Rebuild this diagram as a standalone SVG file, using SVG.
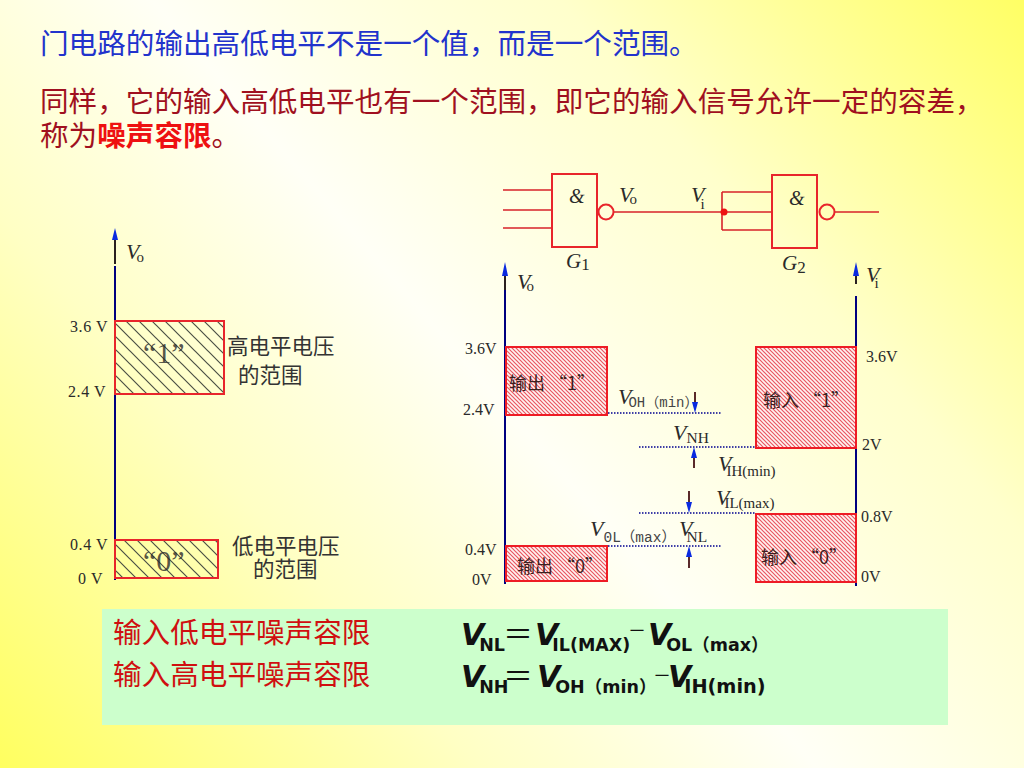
<svg xmlns="http://www.w3.org/2000/svg" width="1024" height="768" viewBox="0 0 1024 768">
<style>
.cn{font-family:"Noto Sans CJK SC","Liberation Sans",sans-serif}
.s{font-family:"Liberation Serif","Noto Sans CJK SC",serif;fill:#2a2a2a}
.i{font-style:italic}
.b{font-family:"DejaVu Sans","Noto Sans CJK SC",sans-serif;font-weight:bold;fill:#111}
.m{font-family:"Liberation Mono","Noto Sans CJK SC",monospace}
.g{fill:none;stroke:#e8252b;stroke-width:2}
.w{stroke:#d8232a;stroke-width:1.6;fill:none}
.ax{stroke:#000080;stroke-width:2;fill:none}
.top{stroke:#2a2020;stroke-width:2;fill:none}
.dot{stroke:#000090;stroke-width:1.5;stroke-dasharray:1.5 1.5;fill:none}
.ar{stroke:#5a2a2a;stroke-width:2;fill:none}
.rb{stroke:#ee1c25;stroke-width:2}
.hd{fill:#0a2ae0}
</style>
<defs>
<linearGradient id="bg" gradientUnits="userSpaceOnUse" x1="1000" y1="-40" x2="30" y2="800">
<stop offset="0" stop-color="#ffff62"/><stop offset="0.28" stop-color="#ffffcc"/><stop offset="0.52" stop-color="#fffff6"/><stop offset="0.72" stop-color="#ffffc4"/><stop offset="1" stop-color="#ffff60"/>
</linearGradient>
<pattern id="h1" width="13" height="13" patternUnits="userSpaceOnUse">
<path d="M-2 -2L15 15M-15 -2L2 15M11 -2L28 15" stroke="#4a4f44" stroke-width="1.2" fill="none"/>
</pattern>
<pattern id="h2" width="4" height="4" patternUnits="userSpaceOnUse">
<rect width="4" height="4" fill="#fff4f2"/>
<path d="M-1 -1L5 5M-5 -1L1 5M3 -1L9 5" stroke="#ea5560" stroke-width="1.2" fill="none"/>
</pattern>
</defs>
<rect width="1024" height="768" fill="url(#bg)"/>

<g id="title">
<text class="cn" x="40" y="54" font-size="28.6" fill="#2233cc">门电路的输出高低电平不是一个值，而是一个范围。</text>
<text class="cn" x="40" y="112" font-size="28.6" fill="#a01020">同样，它的输入高低电平也有一个范围，即它的输入信号允许一定的容差，</text>
<text class="cn" x="40" y="146" font-size="28.6" fill="#a01020">称为<tspan fill="#ee1111" font-weight="bold">噪声容限</tspan>。</text>
</g>

<g id="connectors">
<path class="w" d="M503 190H551M503 210H551M503 228H551M614 212H771M722 192H771M722 230H771M722 192V230M835 212H879"/>
<circle cx="724" cy="212" r="3.5" fill="#ee1111"/>
<path class="ax" d="M115 266V580"/><path class="top" d="M115 238V264"/>
<path class="ax" d="M505 290V584"/><path class="top" d="M505 274V290"/>
<path class="ax" d="M856 296V586"/><path class="top" d="M856 274V284"/>
<path class="hd" d="M115 228L118 240H112Z"/>
<path class="hd" d="M505 262L508 276H502Z"/>
<path class="hd" d="M856 262L859 276H853Z"/>
<path class="dot" d="M608 413H721M639 447H756M639 513H756M608 546H721"/>
<path class="ar" d="M695 392V404M694 456V468M689 491V503M689 556V568"/>
<path class="hd" d="M695 413L692 402H698Z"/>
<path class="hd" d="M694 447L691 458H697Z"/>
<path class="hd" d="M689 513L686 502H692Z"/>
<path class="hd" d="M689 546L686 557H692Z"/>
</g>

<g id="gate-g1">
<rect class="g" x="552" y="174" width="45" height="73"/>
<circle class="g" cx="606" cy="212" r="7.5"/>
<text class="s i" x="569" y="203" font-size="20">&amp;</text>
<text class="s i" x="566" y="268" font-size="21">G<tspan font-style="normal" font-size="17" dy="2">1</tspan></text>
<text class="s i" x="619" y="202" font-size="22">V<tspan font-style="normal" font-size="15" dx="-3" dy="2">o</tspan></text>
<text class="s i" x="691" y="202" font-size="22">V<tspan font-style="normal" font-size="15" dx="-4" dy="7">i</tspan></text>
</g>
<g id="gate-g2">
<rect class="g" x="772" y="175" width="45" height="73"/>
<circle class="g" cx="827" cy="212" r="7.5"/>
<text class="s i" x="789" y="205" font-size="20">&amp;</text>
<text class="s i" x="782" y="270" font-size="21">G<tspan font-style="normal" font-size="17" dy="3">2</tspan></text>
</g>

<g id="left-chart">
<text class="s i" x="126" y="259" font-size="22">V<tspan font-style="normal" font-size="15" dx="-3" dy="3">o</tspan></text>
<rect x="115" y="321" width="109" height="73" fill="url(#h1)"/>
<rect class="g" x="115" y="321" width="109" height="73"/>
<rect x="115" y="540" width="103" height="38" fill="url(#h1)"/>
<rect class="g" x="115" y="540" width="103" height="38"/>
<text class="s" x="143" y="363" font-size="30" fill-opacity="0.8">“1”</text>
<text class="s" x="143" y="571" font-size="30" fill-opacity="0.8">“0”</text>
<text class="s" x="70" y="332" font-size="16" letter-spacing="0.6">3.6 V</text>
<text class="s" x="68" y="397" font-size="16" letter-spacing="0.6">2.4 V</text>
<text class="s" x="70" y="550" font-size="16" letter-spacing="0.6">0.4 V</text>
<text class="s" x="78" y="584" font-size="16" letter-spacing="0.6">0 V</text>
<text class="cn" x="227" y="354" font-size="21.5" fill="#333">高电平电压</text>
<text class="cn" x="238" y="383" font-size="21.5" fill="#333">的范围</text>
<text class="cn" x="232" y="554" font-size="21.5" fill="#333">低电平电压</text>
<text class="cn" x="253" y="577" font-size="21.5" fill="#333">的范围</text>
</g>

<g id="right-chart">
<text class="s i" x="517" y="289" font-size="22">V<tspan font-style="normal" font-size="15" dx="-4" dy="2">o</tspan></text>
<text class="s i" x="866" y="282" font-size="22">V<tspan font-style="normal" font-size="15" dx="-5" dy="6">i</tspan></text>
<rect x="506" y="347" width="101" height="68" fill="url(#h2)" class="rb"/>
<rect x="506" y="546" width="101" height="35" fill="url(#h2)" class="rb"/>
<rect x="756" y="347" width="100" height="101" fill="url(#h2)" class="rb"/>
<rect x="756" y="514" width="100" height="68" fill="url(#h2)" class="rb"/>
<text class="cn" x="509" y="390" font-size="18" fill="#3a2020">输出 “1”</text>
<text class="cn" x="517" y="573" font-size="18" fill="#3a2020">输出 “0”</text>
<text class="cn" x="763" y="407" font-size="18" fill="#3a2020">输入 “1”</text>
<text class="cn" x="761" y="564" font-size="18" fill="#3a2020">输入 “0”</text>
<g class="s" font-size="16">
<text x="465" y="354">3.6V</text><text x="463" y="415">2.4V</text><text x="465" y="555">0.4V</text><text x="472" y="585">0V</text>
<text x="866" y="362">3.6V</text><text x="862" y="450">2V</text><text x="861" y="522">0.8V</text><text x="861" y="582">0V</text>
</g>
<text class="s i" x="618" y="404" font-size="22">V<tspan class="m" font-style="normal" font-size="14" fill="#444" dx="-3" dy="3">OH（min）</tspan></text>
<text class="s i" x="673" y="440" font-size="22">V<tspan font-style="normal" font-size="15.5" dy="3">NH</tspan></text>
<text class="s i" x="718" y="471" font-size="22">V<tspan font-style="normal" font-size="15" dx="-5" dy="5">IH(min)</tspan></text>
<text class="s i" x="716" y="505" font-size="22">V<tspan font-style="normal" font-size="15" dx="-5" dy="3">IL(max)</tspan></text>
<text class="s i" x="590" y="536" font-size="22">V<tspan class="m" font-style="normal" font-size="14.5" fill="#444" dy="6">0L（max）</tspan></text>
<text class="s i" x="679" y="536" font-size="22">V<tspan font-style="normal" font-size="15.5" dx="-6" dy="6">NL</tspan></text>
</g>

<g id="formula-box">
<rect x="102" y="609" width="846" height="116" fill="#ccffcc"/>
<text class="cn" x="113" y="643" font-size="28.6" fill="#d01010">输入低电平噪声容限</text>
<text class="cn" x="113" y="685" font-size="28.6" fill="#d01010">输入高电平噪声容限</text>
<text class="b i" x="461" y="645" font-size="30">V<tspan font-style="normal" font-size="17.5" dx="-5" dy="6">NL</tspan></text>
<text class="cn" x="503" y="645" font-size="30" fill="#111">＝</text>
<text class="b i" x="535" y="645" font-size="30">V<tspan font-style="normal" font-size="17.5" dx="-6" dy="6">IL(MAX)</tspan></text>
<text class="cn" x="628" y="637" font-size="18" fill="#111">－</text>
<text class="b i" x="648" y="645" font-size="30">V<tspan font-style="normal" font-size="17.5" dx="-5" dy="6">OL（max）</tspan></text>
<text class="b i" x="461" y="687" font-size="30">V<tspan font-style="normal" font-size="17.5" dx="-5" dy="6">NH</tspan></text>
<text class="cn" x="503" y="687" font-size="30" fill="#111">＝</text>
<text class="b i" x="537" y="687" font-size="30">V<tspan font-style="normal" font-size="17.5" dx="-5" dy="6">OH（min）</tspan></text>
<text class="cn" x="653" y="682" font-size="18" fill="#111">－</text>
<text class="b i" x="668" y="687" font-size="30">V<tspan font-style="normal" font-size="19.3" dx="-7" dy="6">IH(min)</tspan></text>
</g>
</svg>
